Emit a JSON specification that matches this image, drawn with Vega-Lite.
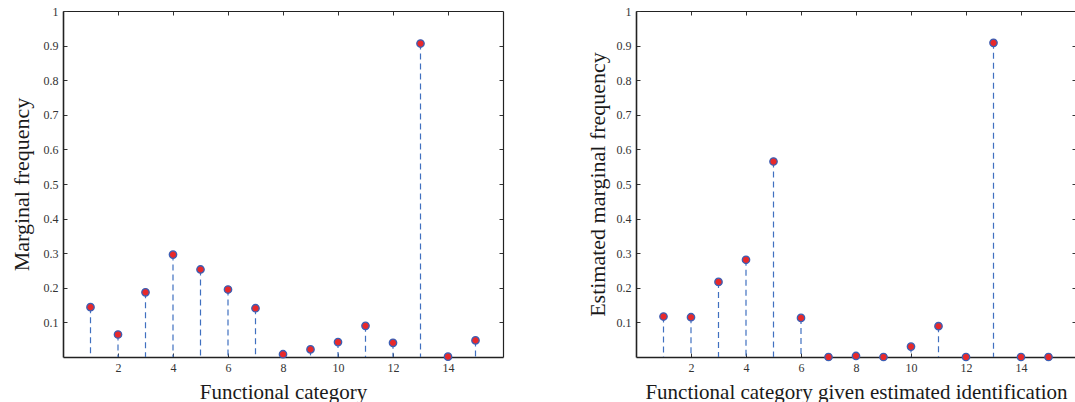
{
  "$schema": "https://vega.github.io/schema/vega-lite/v6.json",
  "background": "white",
  "padding": {"left": 10, "top": 5, "right": 0, "bottom": 0},
  "autosize": {"type": "pad"},
  "spacing": 82,
  "config": {
    "view": {"stroke": null},
    "font": "Liberation Serif",
    "axis": {
      "grid": false,
      "labelFont": "Liberation Serif",
      "titleFont": "Liberation Serif",
      "labelFontSize": 12,
      "labelColor": "#333333",
      "titleFontSize": 22,
      "titleFontWeight": "normal",
      "titleColor": "#1a1a1a",
      "tickSize": -4,
      "tickColor": "#333333",
      "tickWidth": 1,
      "domainColor": "#222222"
    },
    "axisBottom": {"titleFontSize": 21}
  },
  "datasets": {
    "left": [
      {"category": 1, "freq": 0.144},
      {"category": 2, "freq": 0.065},
      {"category": 3, "freq": 0.187},
      {"category": 4, "freq": 0.296},
      {"category": 5, "freq": 0.253},
      {"category": 6, "freq": 0.195},
      {"category": 7, "freq": 0.141},
      {"category": 8, "freq": 0.008},
      {"category": 9, "freq": 0.022},
      {"category": 10, "freq": 0.043},
      {"category": 11, "freq": 0.09},
      {"category": 12, "freq": 0.041},
      {"category": 13, "freq": 0.906},
      {"category": 14, "freq": 0.001},
      {"category": 15, "freq": 0.048}
    ],
    "right": [
      {"category": 1, "freq": 0.117},
      {"category": 2, "freq": 0.115},
      {"category": 3, "freq": 0.217},
      {"category": 4, "freq": 0.281},
      {"category": 5, "freq": 0.565},
      {"category": 6, "freq": 0.113},
      {"category": 7, "freq": 0.0},
      {"category": 8, "freq": 0.003},
      {"category": 9, "freq": 0.0},
      {"category": 10, "freq": 0.03},
      {"category": 11, "freq": 0.089},
      {"category": 12, "freq": 0.0},
      {"category": 13, "freq": 0.908},
      {"category": 14, "freq": 0.0},
      {"category": 15, "freq": 0.0}
    ]
  },
  "hconcat": [
    {
      "width": 440,
      "height": 346,
      "data": {"name": "left"},
      "resolve": {"axis": {"x": "independent", "y": "independent"}},
      "layer": [
        {
          "mark": {"type": "rule", "strokeDash": [6, 4], "color": "#4070c0", "strokeWidth": 1.2},
          "encoding": {
            "x": {"field": "category", "type": "quantitative", "scale": {"domain": [0, 16], "nice": false},
              "axis": {"orient": "bottom", "title": "Functional category", "values": [2, 4, 6, 8, 10, 12, 14], "format": "d", "labelPadding": 9, "titlePadding": 8, "domainWidth": 1.6}},
            "y": {"field": "freq", "type": "quantitative", "scale": {"domain": [0, 1], "nice": false},
              "axis": {"orient": "left", "title": "Marginal frequency", "values": [0.1, 0.2, 0.3, 0.4, 0.5, 0.6, 0.7, 0.8, 0.9, 1], "format": "~g", "labelPadding": 9, "titlePadding": 10, "domainWidth": 1.6}},
            "y2": {"datum": 0}
          }
        },
        {
          "mark": {"type": "circle", "size": 55, "fill": "#e8292b", "stroke": "#3b5fb5", "strokeWidth": 1.3, "opacity": 1},
          "encoding": {
            "x": {"field": "category", "type": "quantitative",
              "axis": {"orient": "top", "title": null, "labels": false, "values": [2, 4, 6, 8, 10, 12, 14], "domainWidth": 1.2}},
            "y": {"field": "freq", "type": "quantitative",
              "axis": {"orient": "right", "title": null, "labels": false, "values": [0.1, 0.2, 0.3, 0.4, 0.5, 0.6, 0.7, 0.8, 0.9], "domainWidth": 1.2}}
          }
        }
      ]
    },
    {
      "width": 440,
      "height": 346,
      "data": {"name": "right"},
      "resolve": {"axis": {"x": "independent", "y": "independent"}},
      "layer": [
        {
          "mark": {"type": "rule", "strokeDash": [6, 4], "color": "#4070c0", "strokeWidth": 1.2},
          "encoding": {
            "x": {"field": "category", "type": "quantitative", "scale": {"domain": [0, 16], "nice": false},
              "axis": {"orient": "bottom", "title": "Functional category given estimated identification", "values": [2, 4, 6, 8, 10, 12, 14], "format": "d", "labelPadding": 9, "titlePadding": 8, "domainWidth": 1.6}},
            "y": {"field": "freq", "type": "quantitative", "scale": {"domain": [0, 1], "nice": false},
              "axis": {"orient": "left", "title": "Estimated marginal frequency", "values": [0.1, 0.2, 0.3, 0.4, 0.5, 0.6, 0.7, 0.8, 0.9, 1], "format": "~g", "labelPadding": 9, "titlePadding": 7, "domainWidth": 1.6}},
            "y2": {"datum": 0}
          }
        },
        {
          "mark": {"type": "circle", "size": 55, "fill": "#e8292b", "stroke": "#3b5fb5", "strokeWidth": 1.3, "opacity": 1},
          "encoding": {
            "x": {"field": "category", "type": "quantitative",
              "axis": {"orient": "top", "title": null, "labels": false, "values": [2, 4, 6, 8, 10, 12, 14], "domainWidth": 1.2}},
            "y": {"field": "freq", "type": "quantitative",
              "axis": {"orient": "right", "title": null, "labels": false, "values": [0.1, 0.2, 0.3, 0.4, 0.5, 0.6, 0.7, 0.8, 0.9], "domainWidth": 1.2}}
          }
        }
      ]
    }
  ]
}
